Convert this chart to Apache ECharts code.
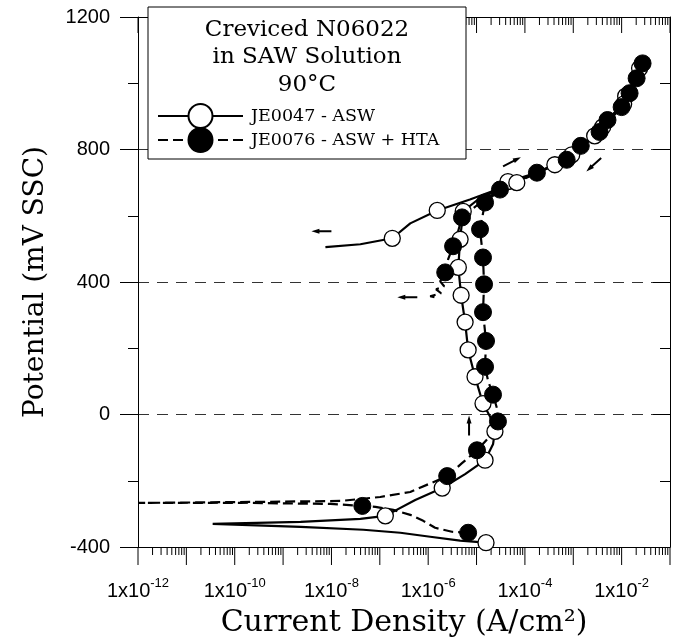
<!DOCTYPE html>
<html><head><meta charset="utf-8">
<script src="https://cdn.jsdelivr.net/npm/echarts@6/dist/echarts.min.js"></script>
<style>html,body{margin:0;padding:0;background:#fff}#c{width:680px;height:643px}</style>
</head><body><div id="c"></div>
<script>
// JE0047 - ASW (open circles, solid line)
const aswI = [1.57e-5,4.57e-6,1.10e-6,2.65e-7,4.57e-8,2.30e-9,3.5e-11,2.30e-9,3.96e-8,1.30e-7,5.4e-7,1.95e-6,5.8e-6,1.50e-5,2.19e-5,2.40e-5,1.90e-5,1.36e-5,9.3e-6,6.7e-6,5.8e-6,4.8e-6,4.2e-6,4.57e-6,5.3e-6,1.07e-5,2.4e-5,4.45e-5,1.77e-4,4.35e-4,9.3e-4,1.99e-3,4.06e-3,7.5e-3,1.21e-2,1.77e-2,2.35e-2,2.71e-2,1.95e-2,1.10e-2,5.1e-3,2.77e-3,1.07e-3,4.16e-4,1.27e-4,6.8e-5,2.65e-5,7.3e-6,1.54e-6,4.26e-7,1.81e-7,3.96e-8,7.5e-9];
const aswE = [-387,-381,-369,-357,-348,-339,-330,-324,-315,-306,-258,-222,-180,-138,-90,-51,-6,33,114,195,279,360,444,529,613,649,673,703,730,754,784,823,868,913,961,1003,1045,1069,1027,937,883,841,793,754,724,700,679,649,616,577,532,514,505];
const aswMark = [1,0,0,0,0,0,0,0,0,1,0,1,0,1,0,1,0,1,1,1,1,1,1,1,1,0,0,1,0,0,1,0,1,0,1,0,1,0,0,1,0,1,0,1,0,1,0,0,1,0,1,0,0];
// JE0076 - ASW + HTA (filled circles, dashed line)
const htaI = [6.7e-6,3.1e-6,1.39e-6,7.9e-7,4.26e-7,1.90e-7,8.1e-8,4.35e-8,9.5e-9,2.14e-10,1.05e-12,2.14e-10,1.53e-8,1.02e-7,4.26e-7,2.47e-6,5.0e-6,1.02e-5,1.90e-5,2.77e-5,2.65e-5,2.19e-5,1.73e-5,1.50e-5,1.57e-5,1.36e-5,1.43e-5,1.36e-5,1.18e-5,1.50e-5,3.05e-5,1.77e-4,5.3e-4,1.43e-3,2.91e-3,5.1e-3,9.1e-3,1.46e-2,1.95e-2,2.71e-2,2.04e-2,1.33e-2,1.0e-2,5.7e-3,3.5e-3,1.5e-3,7.3e-4,2.04e-4,3.05e-5,1.07e-5,5.0e-6,4.16e-6,3.27e-6,2.58e-6,2.25e-6,1.77e-6,2.14e-6,1.46e-6,1.85e-6,1.10e-6,1.61e-6];
const htaE = [-357,-354,-342,-321,-303,-288,-279,-276,-270,-267,-267,-264,-261,-249,-234,-186,-147,-108,-66,-21,18,60,102,144,222,309,393,474,559,640,679,730,760,811,844,889,928,970,1015,1060,1015,970,928,889,853,811,769,733,679,634,595,553,508,468,429,402,387,378,366,357,351];
const htaMark = [1,0,0,0,0,0,0,1,0,0,0,0,0,0,0,1,0,1,0,1,0,1,0,1,1,1,1,1,1,1,0,1,0,1,0,1,0,1,0,1,1,0,1,0,1,0,1,0,1,0,1,0,1,0,1,0,0,0,0,0,0];
// scan-direction arrows
const arrowI = [6.2e-9,3.7e-7,5.4e-5,2.65e-3,7.0e-6];
const arrowE = [553,354,763,754,-33];
const arrowAngle = [180,180,27,222,90];
// axis settings
const xMin = 1e-12, xMax = 1e-1;
const yMin = -400, yMax = 1200, yStep = 400;
const minorMult = [2,3,4,5,6,7,8,9];
const legendTitle = ['Creviced N06022','in SAW Solution','90°C'];
const seriesNames = ['JE0047 - ASW','JE0076 - ASW + HTA'];

const asw = aswI.map((v,i)=>[v, aswE[i], aswMark[i]]);
const hta = htaI.map((v,i)=>[v, htaE[i], htaMark[i]]);
const arrows = arrowI.map((v,i)=>[v, arrowE[i], arrowAngle[i]]);
// log tick positions: [value, bottom tick length, top tick length]
const logTicks = [];
const kMin = Math.round(Math.log10(xMin)), kMax = Math.round(Math.log10(xMax));
for (let k = kMin; k <= kMax; k++) {
  logTicks.push([Math.pow(10,k), 18, 16]);
  if (k < kMax) for (const m of minorMult) logTicks.push([m*Math.pow(10,k), 8, 8]);
}

const serif = 'DejaVu Serif';
const sans = 'Liberation Sans';
const chart = echarts.init(document.getElementById('c'));
const xLog = {
  type:'log', logBase:10, min:xMin, max:xMax, interval:1, splitNumber:11,
  axisLine:{show:true, onZero:false, lineStyle:{color:'#000', width:1}},
  axisTick:{show:false},
  splitLine:{show:false}
};
chart.setOption({
  animation:false,
  backgroundColor:'#fff',
  grid:{left:138, right:10, top:17, bottom:94, containLabel:false},
  xAxis:[
    Object.assign({}, xLog, {
      position:'bottom',
      axisLabel:{show:true, margin:30, formatter:function(v){
          const e = Math.round(Math.log10(v));
          if (e % 2 !== 0) return '';
          return '{b|1x10}{s|' + e + '}';
        },
        rich:{
          b:{fontFamily:sans, fontSize:20, color:'#000', verticalAlign:'bottom'},
          s:{fontFamily:sans, fontSize:13, color:'#000', verticalAlign:'top', padding:[0,0,11,0]}
        }},
      name:'Current Density (A/cm²)', nameLocation:'middle', nameGap:61,
      nameTextStyle:{fontFamily:serif, fontSize:30, color:'#000'}
    }),
    Object.assign({}, xLog, {position:'top', axisLabel:{show:false}})
  ],
  yAxis:[
    {type:'value', min:yMin, max:yMax, interval:yStep, position:'left',
     axisLine:{show:true, onZero:false, lineStyle:{color:'#000'}},
     axisTick:{show:true, inside:false, length:18, lineStyle:{color:'#000'}},
     minorTick:{show:true, splitNumber:2, length:10, lineStyle:{color:'#000'}},
     axisLabel:{margin:28, fontFamily:sans, fontSize:20, color:'#000', formatter:function(v){return String(v);}},
     splitLine:{show:true, lineStyle:{color:'#333', width:1, type:[11,8]}},
     name:'Potential (mV SSC)', nameLocation:'middle', nameGap:88, nameRotate:90,
     nameTextStyle:{fontFamily:serif, fontSize:28, color:'#000'}},
    {type:'value', min:yMin, max:yMax, interval:yStep, position:'right',
     axisLine:{show:true, onZero:false, lineStyle:{color:'#000'}},
     axisTick:{show:true, inside:true, length:17, lineStyle:{color:'#000'}},
     minorTick:{show:true, splitNumber:2, length:10, lineStyle:{color:'#000'}},
     axisLabel:{show:false}, splitLine:{show:false}}
  ],
  legend:{
    data:seriesNames, orient:'vertical', left:152, top:98,
    itemWidth:85, itemHeight:30, itemGap:-2, selectedMode:false,
    textStyle:{fontFamily:serif, fontSize:17.5, color:'#000', padding:[0,0,0,3]}
  },
  graphic:[
    {type:'rect', z:3, shape:{x:148, y:7, width:318, height:152},
     style:{fill:'#fff', stroke:'#000', lineWidth:1}},
    {type:'text', z:5, x:307, y:30, style:{text:legendTitle[0], font:'23px "DejaVu Serif"', fill:'#000', textAlign:'center', textVerticalAlign:'middle'}},
    {type:'text', z:5, x:307, y:57, style:{text:legendTitle[1], font:'23px "DejaVu Serif"', fill:'#000', textAlign:'center', textVerticalAlign:'middle'}},
    {type:'text', z:5, x:307, y:85, style:{text:legendTitle[2], font:'23px "DejaVu Serif"', fill:'#000', textAlign:'center', textVerticalAlign:'middle'}}
  ],
  series:[
    {type:'custom', name:'xticks', silent:true, clip:false, z:1, data:logTicks,
     encode:{x:0, y:-1},
     renderItem:function(params, api){
       const v = api.value(0);
       const x = api.coord([v, yMin])[0];
       const yb = api.coord([v, yMin])[1];
       const yt = api.coord([v, yMax])[1];
       const lb = api.value(1), lt = api.value(2);
       return {type:'group', children:[
         {type:'line', shape:{x1:x, y1:yb, x2:x, y2:yb+lb}, style:{stroke:'#000', lineWidth:1}},
         {type:'line', shape:{x1:x, y1:yt, x2:x, y2:yt+lt}, style:{stroke:'#000', lineWidth:1}}
       ]};
     }},
    {type:'line', name:seriesNames[0], data:asw, symbol:'circle',
     symbolSize:function(v){return v[2] ? 16 : 0;}, showSymbol:true, showAllSymbol:true,
     lineStyle:{color:'#000', width:2.2}, itemStyle:{color:'#fff', borderColor:'#000', borderWidth:1.3},
     silent:true, z:2},
    {type:'line', name:seriesNames[1], data:hta, symbol:'circle',
     symbolSize:function(v){return v[2] ? 17 : 0;}, showSymbol:true, showAllSymbol:true,
     lineStyle:{color:'#000', width:2.2, type:[10,5]}, itemStyle:{color:'#000', borderColor:'#000', borderWidth:1},
     silent:true, z:2},
    {type:'scatter', name:'arrows', data:arrows, silent:true, z:2,
     symbol:'path://M0,3 L12,3 L12,0 L20,5 L12,10 L12,7 L0,7 Z', symbolKeepAspect:true,
     symbolSize:[20,10], symbolRotate:function(v){return v[2];},
     itemStyle:{color:'#000', opacity:1}}
  ]
});
</script></body></html>
